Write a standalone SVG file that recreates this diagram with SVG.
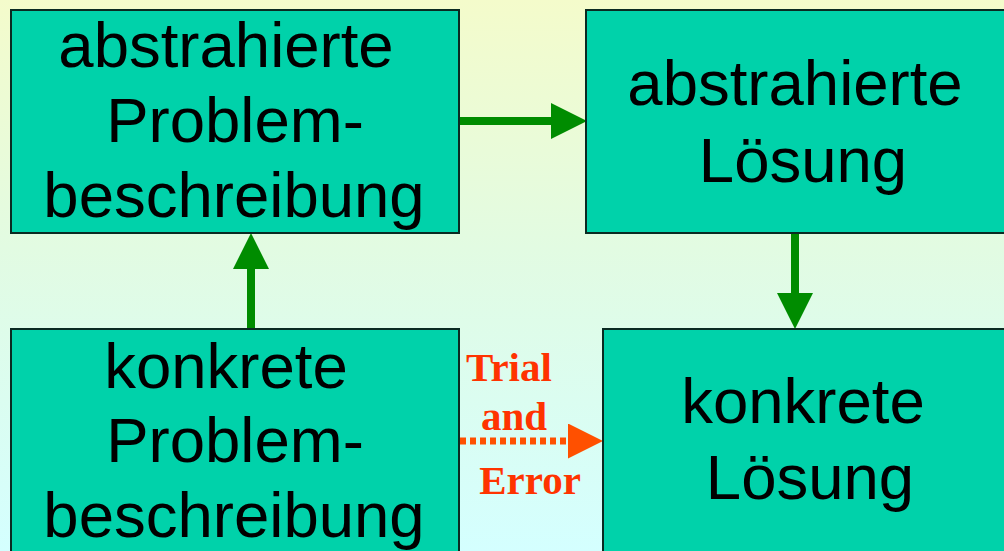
<svg xmlns="http://www.w3.org/2000/svg" width="1004" height="551" viewBox="0 0 1004 551">
<defs>
<linearGradient id="bg" x1="0" y1="0" x2="0" y2="1">
<stop offset="0" stop-color="#F4FBCB"/>
<stop offset="0.45" stop-color="#E2FBE2"/>
<stop offset="1" stop-color="#D4FFFF"/>
</linearGradient>
<marker id="gh" viewBox="0 0 36 36" markerUnits="userSpaceOnUse" markerWidth="36" markerHeight="36" refX="0" refY="18" orient="auto">
<path d="M0,0 L36,18 L0,36 Z" fill="#008C00"/>
</marker>
<marker id="oh" viewBox="0 0 36 36" markerUnits="userSpaceOnUse" markerWidth="35" markerHeight="35" refX="0" refY="18" orient="auto">
<path d="M0,0 L36,18 L0,36 Z" fill="#FF5000"/>
</marker>
</defs>
<style>
.box{fill:#00D2AA;stroke:#0A2A22;stroke-width:2}
.t{font-family:"Liberation Sans",Arial,sans-serif;font-size:63.5px;fill:#000;text-anchor:middle}
.r{font-family:"Liberation Serif","Times New Roman",serif;font-size:41px;font-weight:bold;fill:#FF3300;text-anchor:middle}
.g{stroke:#008C00;stroke-width:8;fill:none}
.o{stroke:#FF5000;stroke-width:7;fill:none;stroke-dasharray:6 4}
</style>
<rect x="0" y="0" width="1004" height="551" fill="url(#bg)"/>
<g id="connectors">
<line class="g" x1="459" y1="121" x2="551" y2="121" marker-end="url(#gh)"/>
<line class="g" x1="251" y1="329" x2="251" y2="269" marker-end="url(#gh)"/>
<line class="g" x1="795" y1="233" x2="795" y2="293" marker-end="url(#gh)"/>
<line class="o" x1="460" y1="441" x2="568" y2="441" marker-end="url(#oh)"/>
<g id="label-trial">
<text class="r" x="509" y="381">Trial</text>
<text class="r" x="514" y="430">and</text>
<text class="r" x="530" y="494">Error</text>
</g>
</g>
<g id="abstract-problem">
<rect class="box" x="11" y="10" width="448" height="223"/>
<text class="t" x="226" y="67">abstrahierte</text>
<text class="t" x="235" y="142">Problem-</text>
<text class="t" x="234" y="217">beschreibung</text>
</g>
<g id="abstract-solution">
<rect class="box" x="586" y="10" width="430" height="223"/>
<text class="t" x="795" y="105">abstrahierte</text>
<text class="t" x="803" y="182">Lösung</text>
</g>
<g id="concrete-problem">
<rect class="box" x="11" y="329" width="448" height="240"/>
<text class="t" x="226" y="388">konkrete</text>
<text class="t" x="235" y="462">Problem-</text>
<text class="t" x="234" y="537">beschreibung</text>
</g>
<g id="concrete-solution">
<rect class="box" x="603" y="329" width="420" height="240"/>
<text class="t" x="803" y="423">konkrete</text>
<text class="t" x="810" y="499">Lösung</text>
</g>
</svg>
